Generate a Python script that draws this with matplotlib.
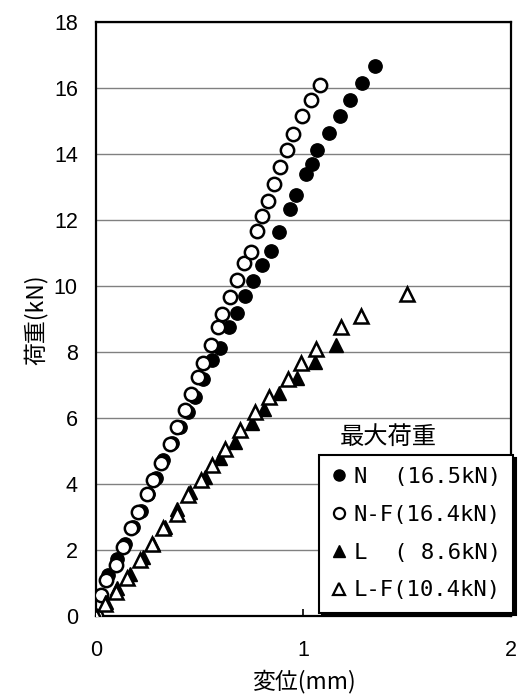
import matplotlib
matplotlib.use("Agg")
import matplotlib.pyplot as plt
from matplotlib.lines import Line2D

plt.rcParams['font.family'] = ['Liberation Sans', 'Noto Sans CJK JP', 'DejaVu Sans']

# N (filled circles)
n_x = [0, 0.06, 0.1, 0.14, 0.18, 0.215, 0.25, 0.29, 0.324, 0.365, 0.405, 0.445, 0.477,
       0.517, 0.557, 0.598, 0.642, 0.681, 0.72, 0.755, 0.8, 0.843, 0.883, 0.935, 0.962,
       1.012, 1.039, 1.067, 1.123, 1.176, 1.225, 1.28, 1.346]
n_y = [0, 1.24, 1.72, 2.2, 2.7, 3.2, 3.7, 4.2, 4.73, 5.25, 5.74, 6.19, 6.65,
       7.2, 7.76, 8.14, 8.75, 9.19, 9.7, 10.16, 10.64, 11.07, 11.63, 12.35, 12.76,
       13.39, 13.72, 14.12, 14.65, 15.15, 15.64, 16.16, 16.69]

# N-F (open circles)
nf_x = [0, 0.024, 0.051, 0.095, 0.132, 0.169, 0.204, 0.244, 0.276, 0.316, 0.357, 0.389,
        0.429, 0.458, 0.493, 0.517, 0.554, 0.586, 0.609, 0.646, 0.681, 0.713, 0.745,
        0.777, 0.798, 0.829, 0.859, 0.887, 0.922, 0.949, 0.994, 1.035, 1.08]
nf_y = [0, 0.64, 1.09, 1.55, 2.1, 2.66, 3.16, 3.69, 4.12, 4.63, 5.23, 5.74,
        6.24, 6.73, 7.25, 7.66, 8.21, 8.77, 9.17, 9.68, 10.18, 10.71, 11.03,
        11.66, 12.12, 12.57, 13.1, 13.6, 14.14, 14.6, 15.17, 15.66, 16.11]

# L (filled triangles)
l_x = [0, 0.051, 0.1, 0.164, 0.228, 0.276, 0.333, 0.389, 0.453, 0.525, 0.598, 0.67,
       0.75, 0.81, 0.883, 0.97, 1.055, 1.157]
l_y = [0, 0.43, 0.84, 1.29, 1.8, 2.2, 2.71, 3.26, 3.77, 4.22, 4.78, 5.28,
       5.84, 6.27, 6.75, 7.22, 7.71, 8.21]

# L-F (open triangles)
lf_x = [0, 0.043, 0.095, 0.15, 0.212, 0.268, 0.324, 0.389, 0.445, 0.505, 0.56, 0.622,
        0.694, 0.766, 0.832, 0.925, 0.986, 1.06, 1.18, 1.276, 1.497]
lf_y = [0, 0.38, 0.72, 1.16, 1.7, 2.2, 2.66, 3.11, 3.67, 4.12, 4.58, 5.08,
        5.64, 6.19, 6.64, 7.2, 7.68, 8.11, 8.75, 9.09, 9.76]

labels = ['N  (16.5kN)', 'N-F(16.4kN)', 'L  ( 8.6kN)', 'L-F(10.4kN)']
x_ticks = [0, 1, 2]
y_ticks = [0, 2, 4, 6, 8, 10, 12, 14, 16, 18]

fig = plt.figure(figsize=(5.21, 6.97), dpi=100)
ax = fig.add_axes([0.184, 0.116, 0.797, 0.852])

ms = 9.6
ax.plot(n_x, n_y, 'o', ms=ms, mfc='black', mec='black', zorder=3)
ax.plot(nf_x, nf_y, 'o', ms=ms, mfc='white', mec='black', mew=1.8, zorder=3)
ax.plot(l_x, l_y, '^', ms=ms, mfc='black', mec='black', zorder=3)
ax.plot(lf_x, lf_y, '^', ms=ms, mfc='white', mec='black', mew=1.8, zorder=3)

ax.set_xlim(0, 2)
ax.set_ylim(0, 18)
ax.set_xticks(x_ticks)
ax.set_yticks(y_ticks)
ax.yaxis.grid(True, color='#808080', lw=1.0)
ax.set_axisbelow(True)
for s in ax.spines.values():
    s.set_linewidth(1.6)
    s.set_color('black')
ax.tick_params(axis='x', direction='in', length=5, width=1.2, pad=17, labelsize=15.5)
ax.tick_params(axis='y', direction='in', length=0, pad=13, labelsize=15.5)

ax.set_xlabel('変位(mm)', fontsize=16.5, family=['Noto Sans CJK JP'], labelpad=6)
ax.set_ylabel('荷重(kN)', fontsize=16.5, family=['Noto Sans CJK JP'], labelpad=4)

handles = [
    Line2D([], [], ls='', marker='o', ms=8, mfc='black', mec='black'),
    Line2D([], [], ls='', marker='o', ms=8, mfc='white', mec='black', mew=1.6),
    Line2D([], [], ls='', marker='^', ms=8, mfc='black', mec='black'),
    Line2D([], [], ls='', marker='^', ms=8, mfc='white', mec='black', mew=1.6),
]
leg = ax.legend(handles, labels, loc='lower right', bbox_to_anchor=(1.005, 0.006),
                prop={'family': 'DejaVu Sans Mono', 'size': 16},
                fancybox=False, shadow={'color': 'black', 'alpha': 1.0},
                handlelength=0.7, handletextpad=0.3, labelspacing=0.8,
                borderpad=0.55, framealpha=1.0, borderaxespad=0)
leg.get_frame().set_edgecolor('black')
leg.get_frame().set_linewidth(1.5)
leg.set_zorder(5)

ax.text(0.705, 0.302, '最大荷重', transform=ax.transAxes, ha='center', va='center',
        fontsize=17.5, family=['Noto Sans CJK JP'])

fig.savefig('out.png', dpi=100)
